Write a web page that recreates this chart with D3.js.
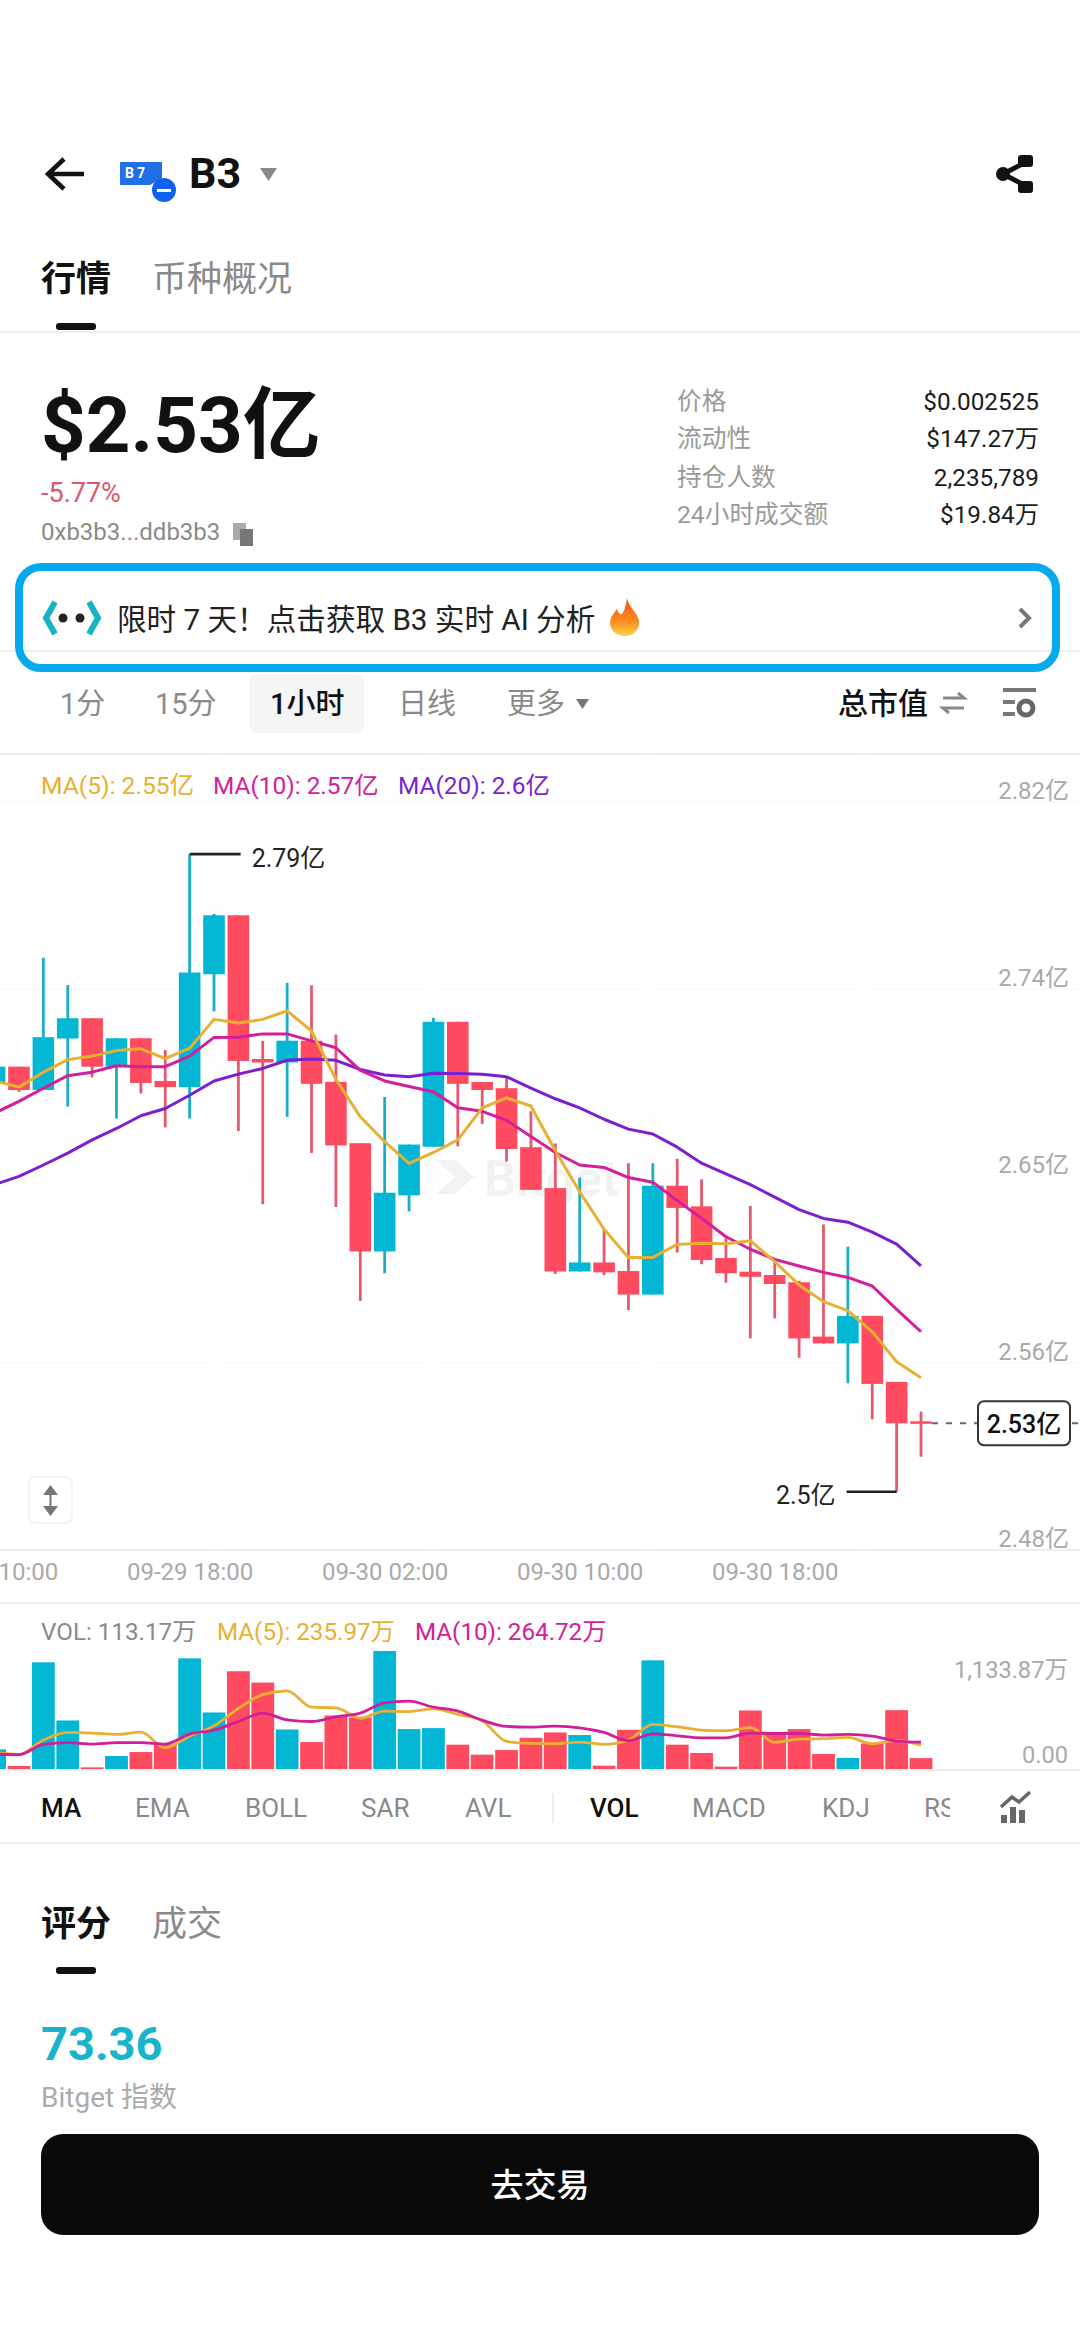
<!DOCTYPE html>
<html>
<head>
<meta charset="utf-8">
<title>B3</title>
<script src="https://cdn.jsdelivr.net/npm/d3@7"></script>
<style>
  html, body { margin: 0; padding: 0; background: #fff; }
  svg { display: block; }
  text { font-family: Roboto, "Noto Sans CJK SC", sans-serif; }
</style>
</head>
<body>
<svg width="1080" height="2336"></svg>
<script>
    // hourly candles, first one sits half off the left edge
    var times = ['09-29 10:00', '09-29 11:00', '09-29 12:00', '09-29 13:00', '09-29 14:00', '09-29 15:00', '09-29 16:00', '09-29 17:00',
      '09-29 18:00', '09-29 19:00', '09-29 20:00', '09-29 21:00', '09-29 22:00', '09-29 23:00', '09-30 00:00', '09-30 01:00',
      '09-30 02:00', '09-30 03:00', '09-30 04:00', '09-30 05:00', '09-30 06:00', '09-30 07:00', '09-30 08:00', '09-30 09:00',
      '09-30 10:00', '09-30 11:00', '09-30 12:00', '09-30 13:00', '09-30 14:00', '09-30 15:00', '09-30 16:00', '09-30 17:00',
      '09-30 18:00', '09-30 19:00', '09-30 20:00', '09-30 21:00', '09-30 22:00', '09-30 23:00', '10-01 00:00'];

    // market cap, in 亿
    var open = [2.6927, 2.6997, 2.6891, 2.7125, 2.7217, 2.6997, 2.7126, 2.6932, 2.6904, 2.7417, 2.7685, 2.7032, 2.7016,
      2.7115, 2.6928, 2.6649, 2.6157, 2.6412, 2.6633, 2.7201, 2.6927, 2.6899, 2.6631, 2.6445, 2.6066, 2.6107, 2.6068,
      2.5961, 2.6456, 2.6362, 2.6127, 2.6065, 2.605, 2.6017, 2.577, 2.5739, 2.5864, 2.5564, 2.5385];
    var close = [2.6997, 2.6891, 2.7131, 2.7217, 2.6997, 2.7126, 2.6923, 2.6904, 2.7425, 2.7685, 2.7023, 2.7016, 2.7115,
      2.6919, 2.6639, 2.6157, 2.6424, 2.6643, 2.7201, 2.6919, 2.6891, 2.6623, 2.6437, 2.6066, 2.6107, 2.6062, 2.5961,
      2.6456, 2.6355, 2.6118, 2.6058, 2.6042, 2.6009, 2.5762, 2.5739, 2.5864, 2.5555, 2.5376, 2.5376];
    var high = [2.6997, 2.6997, 2.7492, 2.7368, 2.7217, 2.7126, 2.7126, 2.7073, 2.7963, 2.7691, 2.7685, 2.7114, 2.7378,
      2.7367, 2.7143, 2.6649, 2.6859, 2.6643, 2.7219, 2.7201, 2.6927, 2.6948, 2.6794, 2.6648, 2.6493, 2.6258, 2.6558,
      2.6558, 2.6578, 2.6485, 2.6217, 2.6364, 2.6118, 2.6024, 2.628, 2.6179, 2.5864, 2.5564, 2.5429];
    var low = [2.6927, 2.6883, 2.6891, 2.6816, 2.6948, 2.6761, 2.6875, 2.6721, 2.6761, 2.7248, 2.6704, 2.6372, 2.6769,
      2.6605, 2.6359, 2.5932, 2.6058, 2.6339, 2.6633, 2.6635, 2.6737, 2.6566, 2.6437, 2.6055, 2.6066, 2.605, 2.5891,
      2.5961, 2.6152, 2.6099, 2.6015, 2.5762, 2.5853, 2.5674, 2.5739, 2.5558, 2.5394, 2.5065, 2.5224];

    var ma5 = [2.6932, 2.6904, 2.6972, 2.7029, 2.7045, 2.707, 2.7078, 2.7034, 2.7081, 2.7212, 2.7195, 2.7212, 2.7251,
      2.7159, 2.694, 2.6769, 2.6656, 2.6557, 2.6607, 2.6664, 2.681, 2.6855, 2.6818, 2.6615, 2.6428, 2.6258, 2.6129,
      2.613, 2.6189, 2.6194, 2.6192, 2.6206, 2.6111, 2.6005, 2.5929, 2.5888, 2.5792, 2.5656, 2.5583];
    var ma10 = [2.6786, 2.6839, 2.6899, 2.6956, 2.6972, 2.7001, 2.6997, 2.6997, 2.7045, 2.713, 2.7131, 2.7146, 2.7146,
      2.7114, 2.7083, 2.698, 2.6932, 2.6907, 2.6883, 2.681, 2.6794, 2.6753, 2.668, 2.6607, 2.655, 2.6539, 2.6493,
      2.6472, 2.6388, 2.6308, 2.6224, 2.6167, 2.6121, 2.6091, 2.6062, 2.6039, 2.6, 2.5894, 2.5792];
    var ma20 = [2.6461, 2.6498, 2.655, 2.6604, 2.6664, 2.6716, 2.6774, 2.6807, 2.6867, 2.6932, 2.6963, 2.6989, 2.7026,
      2.7032, 2.7026, 2.6984, 2.6959, 2.6951, 2.6967, 2.6966, 2.6963, 2.6951, 2.6899, 2.6851, 2.681, 2.6758, 2.6713,
      2.6691, 2.6631, 2.6558, 2.651, 2.6461, 2.6404, 2.6347, 2.6307, 2.629, 2.6245, 2.619, 2.6091];

    // volume, in 万
    var vol = [196, 38, 1026, 472, 25, 133, 171, 244, 1064, 548, 941, 833, 386, 266, 519, 500, 1133.87, 390, 399, 241, 146,
      190, 307, 358, 333, 41, 383, 1045, 241, 162, 32, 567, 355, 390, 152, 114, 253, 570, 113.17];
    var volMa5 = [165, 149, 285, 358, 352, 339, 361, 212, 323, 421, 586, 719, 754, 599, 592, 494, 561, 557, 583, 529, 469,
      272, 253, 250, 266, 244, 285, 434, 412, 380, 374, 405, 263, 295, 298, 310, 250, 282, 235.97];
    var volMa10 = [152, 146, 244, 260, 247, 260, 260, 247, 342, 380, 462, 542, 478, 462, 507, 542, 640, 656, 599, 561, 475,
      415, 409, 418, 402, 358, 279, 345, 326, 307, 307, 352, 348, 348, 333, 339, 323, 276, 264.72];

    var priceTicks = [2.82, 2.735, 2.65, 2.565, 2.48];
    var priceTickLabels = ['2.82亿', '2.74亿', '2.65亿', '2.56亿', '2.48亿'];
    var timeTicks = ['09-29 10:00', '09-29 18:00', '09-30 02:00', '09-30 10:00', '09-30 18:00'];
    var volTicks = [1133.87, 0];
    var volTickLabels = ['1,133.87万', '0.00'];

    var statLabels = ['价格', '流动性', '持仓人数', '24小时成交额'];
    var statValues = ['$0.002525', '$147.27万', '2,235,789', '$19.84万'];
    var intervals = ['1分', '15分', '1小时', '日线', '更多'];
    var mainIndicators = ['MA', 'EMA', 'BOLL', 'SAR', 'AVL'];
    var subIndicators = ['VOL', 'MACD', 'KDJ', 'RSI'];

    var teal = '#03b6d4';
    var red = '#ff4b5f';
    var gold = '#e8b033';
    var pink = '#d3209a';
    var purple = '#7c1fd3';
    var grey = '#8a8a8a';
    var light = '#a9a9a9';
    var ink = '#111';

    var width = 1080;
    var height = 2336;
    var chart = { top: 802, bottom: 1550, left: -5.4, right: 921 };
    var volBox = { top: 1651, bottom: 1770 };

    var svg = d3.select('svg');

    function label(parent, x, y, str, size, color, anchor, weight) {
      return parent.append('text')
        .attr('x', x)
        .attr('y', y)
        .attr('dy', '0.35em')
        .attr('font-size', size)
        .attr('fill', color)
        .attr('text-anchor', anchor || 'start')
        .attr('font-weight', weight || 400)
        .text(str);
    }

    function hline(y, x1, x2, color) {
      svg.append('line').attr('x1', x1 || 0).attr('x2', x2 || width).attr('y1', y).attr('y2', y)
        .attr('stroke', color || '#eee').attr('stroke-width', 2);
    }

    // ---------- header ----------
    svg.append('path').attr('d', 'M84 174H49M64 159L48 174L64 189')
      .attr('fill', 'none').attr('stroke', ink).attr('stroke-width', 4.5);
    svg.append('path').attr('d', 'M120 162H162V178L150 185H120Z').attr('fill', '#2170e8');
    label(svg, 125, 173, 'B', 14, '#fff', 'start', 700);
    label(svg, 137, 173, '7', 14, '#fff', 'start', 700);
    svg.append('circle').attr('cx', 164).attr('cy', 190).attr('r', 12).attr('fill', '#0f62ee');
    svg.append('rect').attr('x', 157).attr('y', 189).attr('width', 14).attr('height', 3).attr('fill', '#fff');
    label(svg, 189, 173, 'B3', 43, ink, 'start', 700);
    svg.append('path').attr('d', 'M260 168H277L268.5 181Z').attr('fill', '#888');
    svg.append('path').attr('d', 'M1028 161L1003 174L1028 187').attr('fill', 'none').attr('stroke', ink).attr('stroke-width', 5);
    svg.append('circle').attr('cx', 1003).attr('cy', 174).attr('r', 7).attr('fill', ink);
    svg.append('rect').attr('x', 1018).attr('y', 155).attr('width', 15).attr('height', 12).attr('rx', 3).attr('fill', ink);
    svg.append('rect').attr('x', 1018).attr('y', 181).attr('width', 15).attr('height', 12).attr('rx', 3).attr('fill', ink);

    label(svg, 41, 279, '行情', 35, ink, 'start', 700);
    label(svg, 152, 279, '币种概况', 35, grey);
    svg.append('rect').attr('x', 56).attr('y', 323).attr('width', 40).attr('height', 7).attr('rx', 3).attr('fill', ink);
    hline(332);

    label(svg, 41, 425, '$2.53亿', 78, ink, 'start', 700);
    label(svg, 41, 493, '-5.77%', 27, '#e0566c');
    label(svg, 41, 532, '0xb3b3...ddb3b3', 24, grey);
    svg.append('rect').attr('x', 233).attr('y', 523).attr('width', 13).attr('height', 17).attr('fill', '#aaa');
    svg.append('rect').attr('x', 240).attr('y', 529).attr('width', 13).attr('height', 17).attr('fill', '#777');

    var statY = [401, 438, 477, 514];
    statLabels.forEach(function (d, i) {
      label(svg, 677, statY[i], d, 24.7, '#9a9a9a');
      label(svg, 1039, statY[i], statValues[i], 24.3, '#1c1c1c', 'end');
    });

    // ---------- banner ----------
    hline(651);
    svg.append('rect').attr('x', 19).attr('y', 567).attr('width', 1037).attr('height', 101).attr('rx', 22)
      .attr('fill', 'none').attr('stroke', '#06a9ee').attr('stroke-width', 8);
    svg.append('path').attr('d', 'M55 602L46 618L55 634').attr('fill', 'none').attr('stroke', '#16b3c6').attr('stroke-width', 6);
    svg.append('path').attr('d', 'M89 602L98 618L89 634').attr('fill', 'none').attr('stroke', '#16b3c6').attr('stroke-width', 6);
    svg.append('circle').attr('cx', 63).attr('cy', 618).attr('r', 4.5).attr('fill', '#222');
    svg.append('circle').attr('cx', 80).attr('cy', 618).attr('r', 4.5).attr('fill', '#222');
    label(svg, 117, 620, '限时 7 天！点击获取 B3 实时 AI 分析', 29.6, '#222');
    var flame = svg.append('defs').append('linearGradient').attr('id', 'flame')
      .attr('x1', 0).attr('x2', 0).attr('y1', 0).attr('y2', 1);
    flame.append('stop').attr('offset', '0%').attr('stop-color', '#f2541b');
    flame.append('stop').attr('offset', '60%').attr('stop-color', '#f98a1e');
    flame.append('stop').attr('offset', '100%').attr('stop-color', '#fdd34a');
    svg.append('path').attr('d', 'M627 598C630 610 640 614 639 624C638 632 632 636 625 636C617 636 611 631 610 624C610 617 614 613 617 609C618 613 620 615 622 614C625 610 626 604 627 598Z')
      .attr('fill', 'url(#flame)');
    svg.append('path').attr('d', 'M1020 609L1029 618L1020 627').attr('fill', 'none').attr('stroke', '#777').attr('stroke-width', 4);

    // ---------- interval row ----------
    svg.append('rect').attr('x', 249).attr('y', 674).attr('width', 115).attr('height', 59).attr('rx', 8).attr('fill', '#f5f5f5');
    var intervalX = [60, 155, 270, 398, 507];
    intervals.forEach(function (d, i) {
      label(svg, intervalX[i], 704, d, 29, i === 2 ? ink : grey, 'start', i === 2 ? 500 : 400);
    });
    svg.append('path').attr('d', 'M576 699H589L582.5 709Z').attr('fill', '#777');
    label(svg, 838, 703, '总市值', 30, ink, 'start', 500);
    svg.append('path').attr('d', 'M943 698H964L958 693M964 708H943L949 713').attr('fill', 'none').attr('stroke', '#888').attr('stroke-width', 3);
    svg.append('path').attr('d', 'M1003 690H1036M1003 702H1015M1003 714H1015').attr('fill', 'none').attr('stroke', '#777').attr('stroke-width', 4);
    svg.append('circle').attr('cx', 1026).attr('cy', 708).attr('r', 7).attr('fill', 'none').attr('stroke', '#666').attr('stroke-width', 5);
    hline(754);

    // ---------- scales ----------
    var xScale = d3.scalePoint()
      .domain(times)
      .range([chart.left, chart.right]);

    var yScale = d3.scaleLinear()
      .domain([2.48, 2.82])
      .range([chart.bottom, chart.top]);

    var volScale = d3.scaleLinear()
      .domain([0, 1133.87])
      .range([volBox.bottom, volBox.top]);

    // ---------- grid ----------
    var gridX = [216, 432, 648, 864];
    svg.append('g').selectAll('line').data(gridX).enter().append('line')
      .attr('x1', d => d).attr('x2', d => d)
      .attr('y1', 754).attr('y2', 1550)
      .attr('stroke', '#fbfbfb').attr('stroke-width', 2);
    svg.append('g').selectAll('line').data(gridX).enter().append('line')
      .attr('x1', d => d).attr('x2', d => d)
      .attr('y1', 1604).attr('y2', 1770)
      .attr('stroke', '#fbfbfb').attr('stroke-width', 2);
    svg.append('g').selectAll('line').data(priceTicks.slice(0, 4)).enter().append('line')
      .attr('x1', 0).attr('x2', width)
      .attr('y1', d => yScale(d)).attr('y2', d => yScale(d))
      .attr('stroke', '#fbfbfb').attr('stroke-width', 2);
    hline(1550);

    // watermark
    svg.append('path').attr('d', 'M436 1160H455L474 1177L455 1194H436L455 1177Z').attr('fill', '#f2f2f2');
    label(svg, 484, 1178, 'Bitget', 50, '#f2f2f2', 'start', 700);

    // ---------- candles ----------
    var plot = svg.append('g');

    plot.selectAll('.wick')
      .data(times)
      .enter().append('line')
      .attr('class', 'wick')
      .attr('x1', d => xScale(d))
      .attr('x2', d => xScale(d))
      .attr('y1', (d, i) => yScale(high[i]))
      .attr('y2', (d, i) => yScale(low[i]))
      .attr('stroke', (d, i) => close[i] > open[i] ? '#1aaec6' : '#e4596d')
      .attr('stroke-width', 2.8);

    plot.selectAll('.body')
      .data(times)
      .enter().append('rect')
      .attr('class', 'body')
      .attr('x', d => xScale(d) - 10.8)
      .attr('width', 21.6)
      .attr('y', (d, i) => yScale(Math.max(open[i], close[i])))
      .attr('height', (d, i) => Math.max(2.5, Math.abs(yScale(open[i]) - yScale(close[i]))))
      .attr('fill', (d, i) => close[i] > open[i] ? teal : red);

    var priceLine = d3.line()
      .x((d, i) => xScale(times[i]))
      .y(d => yScale(d));

    plot.append('path').datum(ma20).attr('d', priceLine).attr('fill', 'none').attr('stroke', purple).attr('stroke-width', 3).attr('stroke-linejoin', 'round');
    plot.append('path').datum(ma10).attr('d', priceLine).attr('fill', 'none').attr('stroke', pink).attr('stroke-width', 3).attr('stroke-linejoin', 'round');
    plot.append('path').datum(ma5).attr('d', priceLine).attr('fill', 'none').attr('stroke', gold).attr('stroke-width', 3).attr('stroke-linejoin', 'round');

    // price axis, labels sit just above their grid line
    var yAxis = d3.axisLeft(yScale)
      .tickValues(priceTicks)
      .tickFormat((d, i) => priceTickLabels[i])
      .tickSize(0)
      .tickPadding(0);
    var yAxisG = svg.append('g')
      .attr('transform', 'translate(1069, -11)')
      .call(yAxis);
    yAxisG.select('.domain').remove();
    yAxisG.selectAll('text').attr('font-size', 24).attr('fill', light).attr('font-family', null);

    // time axis
    var xAxis = d3.axisBottom(xScale)
      .tickValues(timeTicks)
      .tickSize(0)
      .tickPadding(0);
    var xAxisG = svg.append('g')
      .attr('transform', 'translate(0, 1563)')
      .call(xAxis);
    xAxisG.select('.domain').remove();
    xAxisG.selectAll('text').attr('font-size', 24).attr('fill', light).attr('font-family', null);
    hline(1603);

    // high / low / last markers
    var highAt = times[8];
    var lowAt = times[37];
    svg.append('line').attr('x1', xScale(highAt)).attr('x2', xScale(highAt) + 51)
      .attr('y1', yScale(high[8])).attr('y2', yScale(high[8])).attr('stroke', '#222').attr('stroke-width', 2.6);
    label(svg, xScale(highAt) + 62, yScale(high[8]) + 4, '2.79亿', 25, '#222');
    svg.append('line').attr('x1', xScale(lowAt) - 50).attr('x2', xScale(lowAt))
      .attr('y1', yScale(low[37])).attr('y2', yScale(low[37])).attr('stroke', '#222').attr('stroke-width', 2.6);
    label(svg, xScale(lowAt) - 61, yScale(low[37]) + 4, '2.5亿', 25, '#222', 'end');

    var lastY = yScale(close[38]);
    svg.append('line').attr('x1', 932).attr('x2', width).attr('y1', lastY).attr('y2', lastY)
      .attr('stroke', '#666').attr('stroke-width', 2).attr('stroke-dasharray', '6 8');
    svg.append('rect').attr('x', 978).attr('y', lastY - 22).attr('width', 92).attr('height', 44).attr('rx', 6)
      .attr('fill', '#fff').attr('stroke', '#333').attr('stroke-width', 2);
    label(svg, 1024, lastY + 1, '2.53亿', 25, '#111', 'middle', 500);

    // legend
    label(svg, 41, 785, 'MA(5): 2.55亿', 24.6, gold);
    label(svg, 213, 785, 'MA(10): 2.57亿', 24.4, pink);
    label(svg, 398, 785, 'MA(20): 2.6亿', 24.4, purple);

    // zoom button
    svg.append('rect').attr('x', 29).attr('y', 1477).attr('width', 43).attr('height', 46).attr('rx', 6)
      .attr('fill', '#fff').attr('stroke', '#f3f3f3').attr('stroke-width', 2);
    svg.append('path').attr('d', 'M50.5 1485L58 1495H43ZM50.5 1516L58 1506H43Z').attr('fill', '#777');
    svg.append('rect').attr('x', 49.5).attr('y', 1494).attr('width', 2).attr('height', 13).attr('fill', '#777');

    // ---------- volume ----------
    var volPlot = svg.append('g');

    volPlot.selectAll('rect')
      .data(vol)
      .enter().append('rect')
      .attr('x', (d, i) => xScale(times[i]) - 11.4)
      .attr('width', 22.8)
      .attr('y', d => volScale(d))
      .attr('height', d => volBox.bottom - volScale(d))
      .attr('fill', (d, i) => close[i] > open[i] ? teal : red);

    var volLine = d3.line()
      .x((d, i) => xScale(times[i]))
      .y(d => volScale(d))
      .curve(d3.curveMonotoneX);

    volPlot.append('path').datum(volMa5).attr('d', volLine).attr('fill', 'none').attr('stroke', gold).attr('stroke-width', 2.8);
    volPlot.append('path').datum(volMa10).attr('d', volLine).attr('fill', 'none').attr('stroke', '#d01f98').attr('stroke-width', 2.8);

    label(svg, 41, 1632, 'VOL: 113.17万', 24.2, grey);
    label(svg, 217, 1632, 'MA(5): 235.97万', 24.2, gold);
    label(svg, 415, 1632, 'MA(10): 264.72万', 24.2, pink);

    var volAxis = d3.axisLeft(volScale)
      .tickValues(volTicks)
      .tickFormat((d, i) => volTickLabels[i])
      .tickSize(0)
      .tickPadding(0);
    var volAxisG = svg.append('g')
      .attr('transform', 'translate(1068, 0)')
      .call(volAxis);
    volAxisG.select('.domain').remove();
    volAxisG.selectAll('text').attr('font-size', 23.6).attr('fill', light).attr('font-family', null)
      .attr('dy', (d, i) => i === 0 ? 26 : -7.5);
    hline(1770);

    // ---------- indicator tabs ----------
    var mainX = [41, 135, 245, 361, 465];
    mainIndicators.forEach(function (d, i) {
      label(svg, mainX[i], 1808, d, 26, i === 0 ? ink : grey, 'start', i === 0 ? 500 : 400);
    });
    svg.append('rect').attr('x', 552).attr('y', 1793).attr('width', 2).attr('height', 30).attr('fill', '#eee');
    svg.append('clipPath').attr('id', 'tabClip').append('rect').attr('x', 0).attr('y', 1780).attr('width', 950).attr('height', 60);
    var subX = [590, 692, 822, 924];
    subIndicators.forEach(function (d, i) {
      label(svg, subX[i], 1808, d, 26, i === 0 ? ink : grey, 'start', i === 0 ? 500 : 400)
        .attr('clip-path', 'url(#tabClip)');
    });
    svg.append('path').attr('d', 'M1001 1807L1012 1797L1019 1802L1030 1792').attr('fill', 'none').attr('stroke', '#666').attr('stroke-width', 3.5);
    svg.append('path').attr('d', 'M1001 1815h6v8h-6ZM1010 1807h6v16h-6ZM1019 1810h6v13h-6Z').attr('fill', '#666');
    hline(1843);

    // ---------- bottom ----------
    label(svg, 41, 1924, '评分', 35, ink, 'start', 700);
    label(svg, 152, 1924, '成交', 35, grey);
    svg.append('rect').attr('x', 56).attr('y', 1967).attr('width', 40).attr('height', 7).attr('rx', 3).attr('fill', ink);
    label(svg, 41, 2044, '73.36', 47, '#18b4cc', 'start', 700);
    label(svg, 41, 2097, 'Bitget 指数', 28, '#ababab');
    svg.append('rect').attr('x', 41).attr('y', 2134).attr('width', 998).attr('height', 101).attr('rx', 22).attr('fill', '#0a0a0a');
    label(svg, 540, 2185, '去交易', 33, '#fff', 'middle', 500);
</script>
</body>
</html>
